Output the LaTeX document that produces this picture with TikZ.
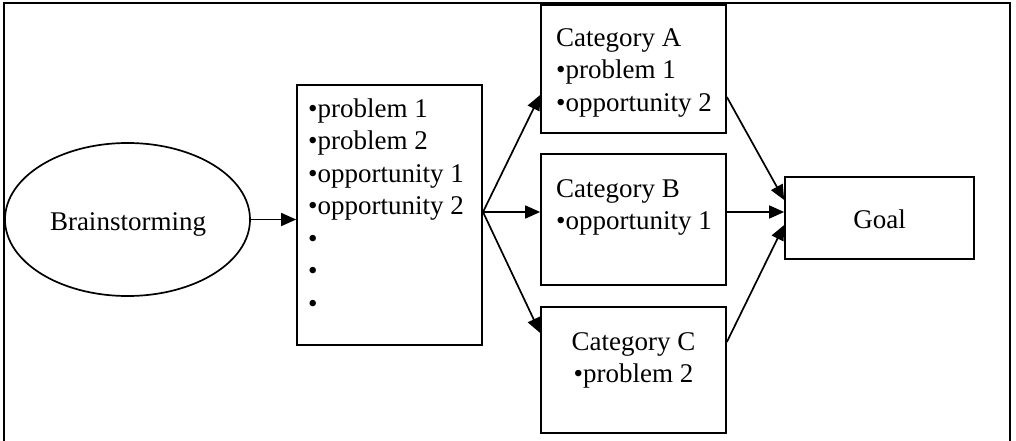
\documentclass[tikz,border=0pt]{standalone}
\usepackage{fontspec}
\setmainfont{Liberation Serif}
\usetikzlibrary{arrows.meta,shapes.geometric}
\begin{document}
\begin{tikzpicture}[x=1pt,y=-1pt,
  every node/.style={font=\fontsize{27}{32.5}\selectfont},
  box/.style={draw,line width=1.7pt,rectangle,inner sep=0pt},
  txt/.style={inner sep=0pt,align=left,anchor=base west},
  link/.style={line width=1.7pt,-{Triangle[length=15pt,width=13pt]}}]
\useasboundingbox (0,0) rectangle (1016,441);
% outer frame (bottom edge lies below the page)
\draw[line width=1.7pt] (4,441) -- (4,3) -- (1010,3) -- (1010,441);
% boxes
\node[draw,line width=1.7pt,ellipse,minimum width=245pt,minimum height=153pt,inner sep=0pt] (brain) at (127.5,219.5) {};
\node[box,minimum width=185pt,minimum height=260pt] (list) at (389.5,215) {};
\node[box,minimum width=185pt,minimum height=128pt] (catA) at (633.5,69) {};
\node[box,minimum width=185pt,minimum height=131pt] (catB) at (633.5,219.5) {};
\node[box,minimum width=185pt,minimum height=126pt] (catC) at (633.5,370) {};
\node[box,minimum width=189pt,minimum height=82pt] (goal) at (879.5,218) {};
% texts (anchored at the baseline of their last line)
\node[inner sep=0pt,anchor=base] (braintxt) at (128,230) {Brainstorming};
\node[txt] (listtxt) at (308,312) {•problem 1\\•problem 2\\•opportunity 1\\•opportunity 2\\•\\•\\•};
\node[txt] (catAtxt) at (556,111) {Category A\\•problem 1\\•opportunity 2};
\node[txt] (catBtxt) at (556,229.5) {Category B\\•opportunity 1};
\node[txt,align=center,anchor=base] (catCtxt) at (633.5,382.5) {Category C\\•problem 2};
\node[inner sep=0pt,anchor=base] (goaltxt) at (879.5,228) {Goal};
% connectors
\coordinate (lo) at (483,212);
\draw[link] (brain.east) -- (list.west |- brain.east);
\draw[link] (lo) -- (catA.west |- 0,95);
\draw[link] (lo) -- (catB.west |- lo);
\draw[link] (lo) -- (catC.west |- 0,333);
\draw[link] (catA.east |- 0,97) -- (goal.west |- 0,200);
\draw[link] (catB.east |- 0,212) -- (goal.west |- 0,212);
\draw[link] (catC.east |- 0,342) -- (goal.west |- 0,225);
\end{tikzpicture}
\end{document}
